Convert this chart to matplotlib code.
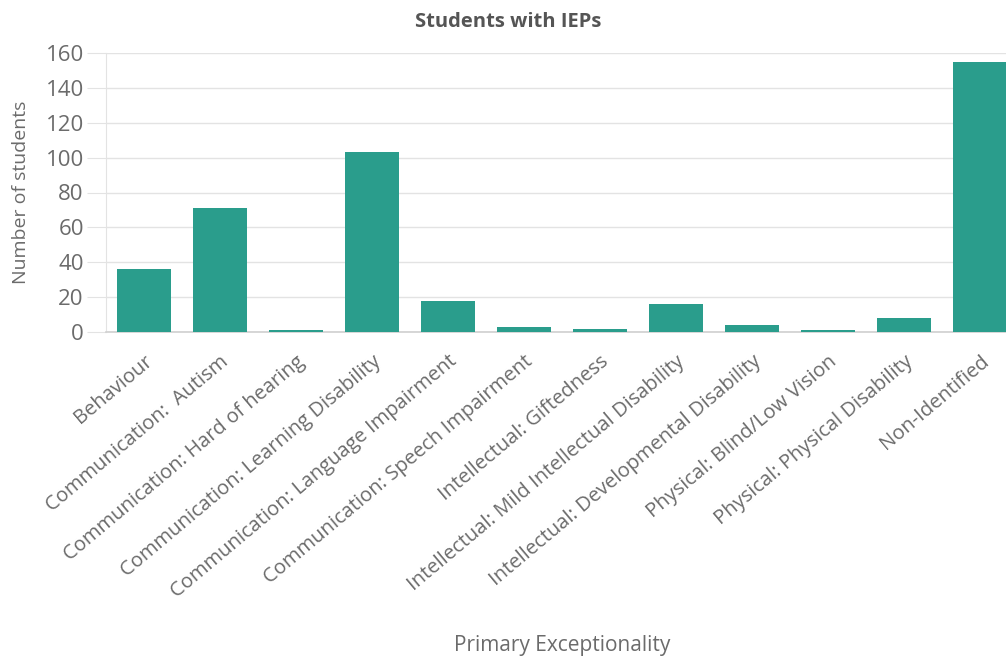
import matplotlib
matplotlib.use("Agg")
import matplotlib.pyplot as plt
import numpy as np

categories = ["Behaviour", "Communication:  Autism", "Communication: Hard of hearing",
              "Communication: Learning Disability", "Communication: Language Impairment",
              "Communication: Speech Impairment", "Intellectual: Giftedness",
              "Intellectual: Mild Intellectual Disability", "Intellectual: Developmental Disability",
              "Physical: Blind/Low Vision", "Physical: Physical Disability", "Non-Identified"]
students = [36, 71, 1, 103, 18, 3, 2, 16, 4, 1, 8, 155]
yticks = [0, 20, 40, 60, 80, 100, 120, 140, 160]

plt.rcParams['font.family'] = ['Open Sans', 'DejaVu Sans']
grey = "#6b6b6b"
bar_color = "#2a9d8c"

fig = plt.figure(figsize=(10.06, 6.56), dpi=100)
# axes run slightly past the right edge like the original screenshot
ax = fig.add_axes([106 / 1006, 1 - 332 / 656, 912 / 1006, 279 / 656])

ind = np.arange(len(categories))
ax.bar(ind, students, width=0.71, color=bar_color, zorder=3)
ax.set_xlim(-0.5, len(categories) - 0.5)
ax.set_ylim(0, 160)
ax.set_yticks(yticks)
ax.yaxis.grid(True, color="#e3e3e3", linewidth=1, zorder=0)

for s in ["top", "right"]:
    ax.spines[s].set_visible(False)
ax.spines["left"].set_color("#e3e3e3")
ax.spines["bottom"].set_color("#d0d0d0")
ax.spines["bottom"].set_linewidth(1.2)

ax.tick_params(axis="y", length=14, color="#e3e3e3", labelsize=16, labelcolor=grey, pad=2)
ax.tick_params(axis="x", length=0, pad=14)
ax.set_xticks(ind)
ax.set_xticklabels(categories, rotation=40, ha="right", rotation_mode="anchor",
                   fontsize=14.5, color=grey)

ax.set_ylabel("Number of students", fontsize=14, color=grey)
ax.yaxis.set_label_coords(-76 / 912, 0.5)
fig.text(562 / 1006, 1 - 645 / 656, "Primary Exceptionality", ha="center", va="center",
         fontsize=15, color=grey)
fig.text(508 / 1006, 1 - 22 / 656, "Students with IEPs", ha="center", va="center",
         fontsize=14.5, fontweight="bold", color="#555555")

fig.savefig("out.png", dpi=100)
